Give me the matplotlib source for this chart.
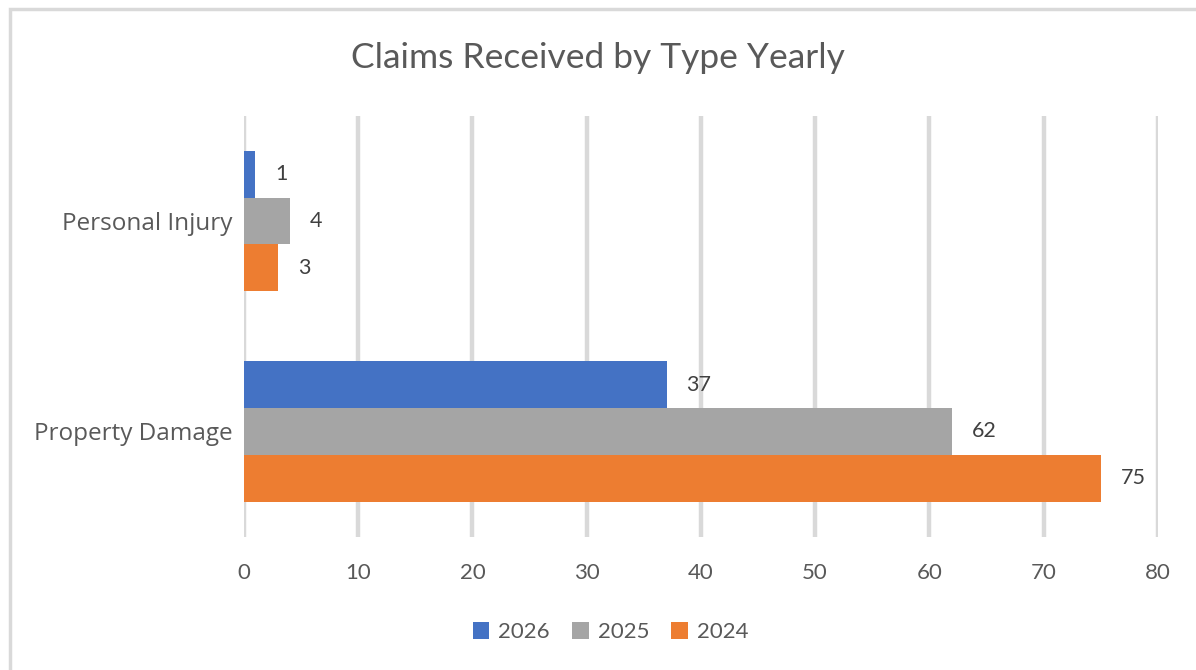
import numpy as np
import matplotlib
import matplotlib.pyplot as plt
from matplotlib.patches import Rectangle

matplotlib.use('Agg')

# data
categories = ['Personal Injury', 'Property Damage']
years = ['2026', '2025', '2024']
values_2026 = [1, 37]
values_2025 = [4, 62]
values_2024 = [3, 75]
colors = ['#4472C4', '#A5A5A5', '#ED7D31']

plt.rcParams['font.family'] = ['Lato', 'DejaVu Sans']

fig = plt.figure(figsize=(11.96, 6.7), dpi=100)
ax = fig.add_axes([0.204, 0.199, 0.764, 0.628])

y = np.arange(len(categories))
bar_h = 0.222
series = [values_2026, values_2025, values_2024]
for i, (vals, lab, col) in enumerate(zip(series, years, colors)):
    pos = y + (i - 1) * bar_h
    bars = ax.barh(pos, vals, height=bar_h, color=col, label=lab, zorder=3)
    for b, v in zip(bars, vals):
        ax.annotate(str(v), (b.get_width(), b.get_y() + b.get_height() / 2),
                    xytext=(20, 0), textcoords='offset pixels',
                    ha='left', va='center', fontsize=15.5, color='#404040')

ax.set_xlim(0, 80)
ax.set_xticks(np.arange(0, 81, 10))
ax.set_ylim(1.5, -0.5)
ax.set_yticks(y)
ax.set_yticklabels(categories, family=['Open Sans', 'DejaVu Sans'])
ax.grid(axis='x', color='#D9D9D9', linewidth=3.2, zorder=0)
ax.tick_params(axis='x', length=0, pad=19, labelsize=16, labelcolor='#595959')
ax.tick_params(axis='y', length=0, pad=8, labelsize=17.5, labelcolor='#595959')
for s in ax.spines.values():
    s.set_visible(False)

fig.suptitle('Claims Received by Type Yearly', y=0.937, fontsize=25.5, color='#595959')

ax.legend(loc='center', bbox_to_anchor=(0.5105, 0.0565), bbox_transform=fig.transFigure,
          ncol=3, frameon=False, fontsize=16, labelcolor='#595959',
          handlelength=0.75, handleheight=0.75, handletextpad=0.4, columnspacing=1.0)

# outer chart border (only left/top visible in the crop)
fig.patches.append(Rectangle((9.5 / 1196, -0.1), 1.2, 1 - 8.5 / 670 + 0.1,
                             transform=fig.transFigure, fill=False,
                             edgecolor='#D9D9D9', linewidth=2.5))

fig.savefig('out.png', dpi=100)
